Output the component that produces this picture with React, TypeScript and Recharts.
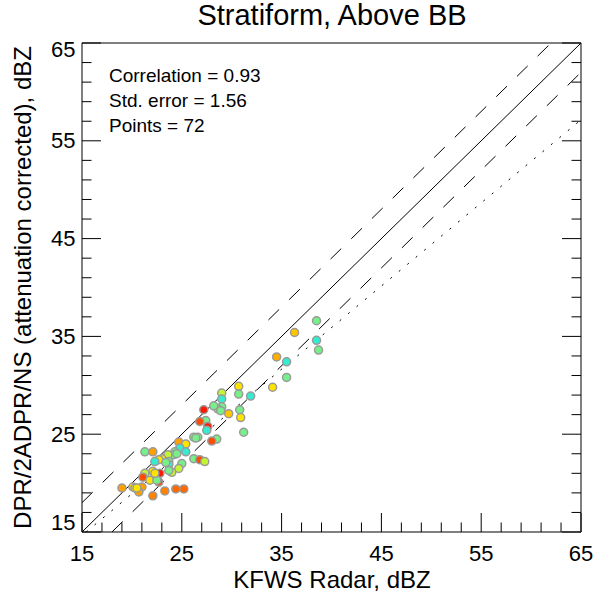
import React from "react";
import {
  ScatterChart,
  Scatter,
  XAxis,
  YAxis,
  ReferenceLine,
} from "recharts";

// KFWS radar reflectivity (x) vs DPR attenuation-corrected reflectivity (y), dBZ
const radarDbz = [
  38.5, 36.3, 38.5, 38.7, 34.5, 35.5, 35.5, 34.1, 30.7, 30.7, 31.9, 29.0,
  29.0, 29.0, 29.7, 30.8, 30.9, 31.2, 28.6, 27.2, 27.4, 26.8, 27.6, 27.5,
  28.5, 28.0, 26.2, 26.6, 24.7, 25.4, 24.8, 25.4, 24.3, 24.2, 21.3, 22.1,
  23.6, 23.0, 22.7, 23.7, 22.3, 23.7, 26.2, 26.8, 27.3, 25.0, 24.7, 24.0,
  23.7, 22.1, 22.8, 21.3, 21.1, 21.8, 22.7, 22.5, 21.0, 20.1, 20.3, 19.0,
  20.7, 22.1, 23.3, 24.4, 25.2, 28.2, 24.5, 23.4, 26.4, 28.9, 20.5, 22.3,
];
const dprDbz = [
  36.6, 35.4, 34.6, 33.6, 32.9, 32.4, 30.8, 29.8, 29.9, 29.1, 28.9, 29.2,
  28.6, 27.8, 27.1, 27.5, 26.7, 25.2, 27.6, 27.5, 26.4, 26.3, 25.8, 25.4,
  24.5, 24.3, 24.7, 24.7, 24.2, 24.0, 23.6, 23.2, 23.2, 22.9, 23.2, 23.2,
  22.9, 22.5, 22.4, 22.2, 22.2, 21.9, 22.5, 22.4, 22.2, 22.0, 21.5, 21.1,
  21.3, 21.2, 21.0, 21.0, 20.6, 20.3, 20.1, 20.3, 19.6, 19.6, 19.5, 19.5,
  19.1, 18.7, 19.2, 19.4, 19.4, 27.9, 23.0, 22.1, 24.6, 27.4, 19.5, 21.0,
];
const pointColors = [
  "lg", "go", "cy", "lg", "og", "cy", "lg", "ye", "ye", "lg", "cy", "yg",
  "cy", "lg", "go", "lg", "ye", "lg", "lg", "re", "lg", "rr", "re", "cy",
  "lg", "rr", "lg", "lg", "or", "ye", "cy", "cy", "lg", "lg", "lg", "or",
  "yg", "ye", "ye", "lg", "cy", "cy", "lg", "rr", "yg", "lg", "yg", "yg",
  "lg", "ye", "re", "yg", "rr", "ye", "rr", "lg", "or", "ye", "ye", "or",
  "or", "do", "do", "ro", "ro", "lg", "lg", "lg", "lg", "lg", "ye", "ye",
];
const palette: Record<string, string> = {
  cy: "#36ecd0",
  lg: "#78f08a",
  yg: "#c4f534",
  ye: "#ffe400",
  go: "#ffc600",
  og: "#ffae00",
  or: "#ffa000",
  do: "#ff8200",
  ro: "#ff6800",
  rr: "#ff4c00",
  re: "#ff1a00",
};

const axisTicks = [
  15, 17, 19, 21, 23, 25, 27, 29, 31, 33, 35, 37, 39, 41, 43, 45, 47, 49, 51,
  53, 55, 57, 59, 61, 63, 65,
];
const stats = ["Correlation = 0.93", "Std. error = 1.56", "Points = 72"];

// reference lines: 1:1, +/-3 dBZ, and the fit
const offsetDb = 3;
const fitSlope = 0.85;
const fitIntercept = 1.9;

const data = radarDbz.map((x, i) => ({
  x,
  y: dprDbz[i],
  c: palette[pointColors[i]],
}));

const FONT = "'Liberation Sans', Arial, Helvetica, sans-serif";
const MIN = 15;
const MAX = 65;

const isMajor = (v: number) => (v - MIN) % 10 === 0;

const BottomTick = (props: any) => {
  const { x, y, payload } = props;
  const v = payload.value;
  const len = isMajor(v) ? 19 : 9.5;
  return (
    <g>
      <line x1={x} y1={y} x2={x} y2={y - len} stroke="#000" />
      {isMajor(v) && (
        <text x={x} y={y + 29} textAnchor="middle" fontSize={22} fontFamily={FONT} fill="#000">
          {v}
        </text>
      )}
    </g>
  );
};

const TopTick = (props: any) => {
  const { x, y, payload } = props;
  const len = isMajor(payload.value) ? 19 : 9.5;
  return <line x1={x} y1={y} x2={x} y2={y + len} stroke="#000" />;
};

const LeftTick = (props: any) => {
  const { x, y, payload } = props;
  const v = payload.value;
  const len = isMajor(v) ? 19 : 9.5;
  let dy = 7.5;
  if (v === MAX) dy = 14;
  if (v === MIN) dy = -2;
  return (
    <g>
      <line x1={x} y1={y} x2={x + len} y2={y} stroke="#000" />
      {isMajor(v) && (
        <text x={x - 6.5} y={y + dy} textAnchor="end" fontSize={22} fontFamily={FONT} fill="#000">
          {v}
        </text>
      )}
    </g>
  );
};

const RightTick = (props: any) => {
  const { x, y, payload } = props;
  const len = isMajor(payload.value) ? 19 : 9.5;
  return <line x1={x} y1={y} x2={x - len} y2={y} stroke="#000" />;
};

const Dot = (props: any) => (
  <circle cx={props.cx} cy={props.cy} r={4} fill={props.payload.c} stroke="#9a9a9a" strokeWidth={1.5} />
);

export default function App() {
  const axisCommon = {
    type: "number" as const,
    domain: [MIN, MAX],
    ticks: axisTicks,
    interval: 0 as const,
    tickLine: false,
    tickSize: 0,
    tickMargin: 0,
    allowDataOverflow: true,
    axisLine: { stroke: "#000", strokeWidth: 1 },
  };
  const fitStartX = (MIN - fitIntercept) / fitSlope;

  return (
    <div style={{ position: "absolute", left: 0, top: 0, width: 596, height: 597, background: "#fff" }}>
      <ScatterChart width={596} height={597} margin={{ top: 42, right: 14, bottom: 64, left: 81 }}>
        <XAxis {...axisCommon} dataKey="x" xAxisId="b" orientation="bottom" height={1} tick={<BottomTick />} />
        <XAxis {...axisCommon} xAxisId="t" orientation="top" height={1} tick={<TopTick />} />
        <YAxis {...axisCommon} dataKey="y" yAxisId="l" orientation="left" width={1} tick={<LeftTick />} />
        <YAxis {...axisCommon} yAxisId="r" orientation="right" width={1} tick={<RightTick />} />
        <Scatter data={data} xAxisId="b" yAxisId="l" shape={<Dot />} isAnimationActive={false} />
        <Scatter data={[]} xAxisId="t" yAxisId="r" isAnimationActive={false} />
        <ReferenceLine
          xAxisId="b"
          yAxisId="l"
          segment={[{ x: MIN, y: MIN }, { x: MAX, y: MAX }]}
          stroke="#000"
          strokeWidth={1}
        />
        <ReferenceLine
          xAxisId="b"
          yAxisId="l"
          segment={[{ x: MIN, y: MIN + offsetDb }, { x: MAX - offsetDb, y: MAX }]}
          stroke="#000"
          strokeWidth={1}
          strokeDasharray="15 14"
        />
        <ReferenceLine
          xAxisId="b"
          yAxisId="l"
          segment={[{ x: MIN + offsetDb, y: MIN }, { x: MAX, y: MAX - offsetDb }]}
          stroke="#000"
          strokeWidth={1}
          strokeDasharray="15 14"
        />
        <ReferenceLine
          xAxisId="b"
          yAxisId="l"
          segment={[{ x: fitStartX, y: MIN }, { x: MAX, y: fitSlope * MAX + fitIntercept }]}
          stroke="#000"
          strokeWidth={1}
          strokeDasharray="2 9"
        />
      </ScatterChart>
      <svg
        width={596}
        height={597}
        style={{ position: "absolute", left: 0, top: 0, pointerEvents: "none" }}
        fontFamily={FONT}
      >
        <text x={332} y={25} textAnchor="middle" fontSize={29} fill="#000">
          Stratiform, Above BB
        </text>
        {stats.map((s, i) => (
          <text key={s} x={109} y={82 + i * 25} fontSize={19} fill="#000">
            {s}
          </text>
        ))}
        <text x={332} y={588} textAnchor="middle" fontSize={24} fill="#000">
          KFWS Radar, dBZ
        </text>
        <text transform="translate(31,287.5) rotate(-90)" textAnchor="middle" fontSize={24} fill="#000">
          DPR/2ADPR/NS (attenuation corrected), dBZ
        </text>
      </svg>
    </div>
  );
}
